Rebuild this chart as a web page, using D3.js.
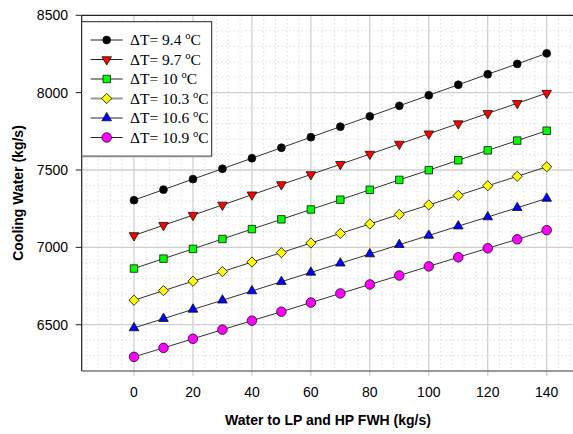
<!DOCTYPE html>
<html lang="en">
<head>
  <meta charset="UTF-8">
  <title>Cooling Water</title>
  <script src="https://d3js.org/d3.v7.min.js"></script>
  <style>
    body { margin: 0; background: #fff; }
    svg { display: block; }
  </style>
</head>
<body>
  <div id="chart"></div>
  <script>
    const xValues = [0, 10, 20, 30, 40, 50, 60, 70, 80, 90, 100, 110, 120, 130, 140];
    const xTicks = [0, 20, 40, 60, 80, 100, 120, 140];
    const yTicks = [6500, 7000, 7500, 8000, 8500];
    const seriesNames = ["9.4", "9.7", "10", "10.3", "10.6", "10.9"];
    const dt94 = [7305, 7373, 7441, 7508, 7576, 7644, 7712, 7780, 7847, 7915, 7983, 8051, 8119, 8186, 8254];
    const dt97 = [7077, 7143, 7208, 7274, 7340, 7406, 7471, 7537, 7603, 7668, 7734, 7800, 7866, 7931, 7997];
    const dt100 = [6863, 6927, 6990, 7054, 7118, 7181, 7245, 7308, 7372, 7436, 7499, 7563, 7627, 7690, 7754];
    const dt103 = [6658, 6720, 6781, 6843, 6905, 6966, 7028, 7090, 7151, 7213, 7274, 7336, 7398, 7459, 7521];
    const dt106 = [6479, 6539, 6599, 6658, 6718, 6778, 6838, 6897, 6957, 7017, 7077, 7137, 7196, 7256, 7316];
    const dt109 = [6292, 6350, 6409, 6468, 6526, 6584, 6643, 6702, 6760, 6818, 6877, 6936, 6994, 7052, 7111];
    const seriesValues = [dt94, dt97, dt100, dt103, dt106, dt109];

    const fills = ["#000000", "#ff0000", "#00ff00", "#ffff00", "#0000ff", "#ff00ff"];
    const symbols = [d3.symbolCircle, d3.symbolTriangle, d3.symbolSquare, d3.symbolSquare, d3.symbolTriangle, d3.symbolCircle];
    const sizes = [48, 40, 56, 52, 40, 72];
    const rotations = [0, 180, 0, 45, 0, 0];

    const W = 573, H = 434;
    const svg = d3.select("#chart").append("svg")
      .attr("width", W)
      .attr("height", H);

    const x = d3.scaleLinear().domain([0, 140]).range([134, 546.7]);
    const y = d3.scaleLinear().domain([6500, 8500]).range([324.7, 15.3]);
    const pLeft = 81.7, pTop = y(8500), pBottom = y(6200), pRight = W + 2;
    const xMax = x.invert(pRight);

    // minor dotted grid
    const minorX = d3.range(-16, xMax, 4).filter(v => v % 20 !== 0);
    const minorY = d3.range(6300, 8500, 100).filter(v => v % 500 !== 0);
    svg.append("g").selectAll("line").data(minorX).enter().append("line")
      .attr("x1", d => x(d)).attr("x2", d => x(d))
      .attr("y1", pTop).attr("y2", pBottom)
      .attr("stroke", "#cfcfcf").attr("stroke-dasharray", "1,3");
    svg.append("g").selectAll("line").data(minorY).enter().append("line")
      .attr("x1", pLeft).attr("x2", pRight)
      .attr("y1", d => y(d)).attr("y2", d => y(d))
      .attr("stroke", "#cfcfcf").attr("stroke-dasharray", "1,3");

    // major grid
    svg.append("g").selectAll("line").data(xTicks).enter().append("line")
      .attr("x1", d => x(d)).attr("x2", d => x(d))
      .attr("y1", pTop).attr("y2", pBottom + 5)
      .attr("stroke", "#d0d0d0").attr("stroke-width", 1.3);
    svg.append("g").selectAll("line").data(yTicks.slice(0, 4)).enter().append("line")
      .attr("x1", pLeft).attr("x2", pRight)
      .attr("y1", d => y(d)).attr("y2", d => y(d))
      .attr("stroke", "#d0d0d0").attr("stroke-width", 1.3);

    // frame
    svg.append("line").attr("x1", pLeft).attr("x2", pRight).attr("y1", pTop).attr("y2", pTop)
      .attr("stroke", "#222").attr("stroke-width", 1.2);
    svg.append("line").attr("x1", pLeft).attr("x2", pRight).attr("y1", pBottom).attr("y2", pBottom)
      .attr("stroke", "#777").attr("stroke-width", 1.5);
    svg.append("line").attr("x1", pLeft).attr("x2", pLeft).attr("y1", pTop).attr("y2", pBottom)
      .attr("stroke", "#222").attr("stroke-width", 1.2);

    // y ticks and labels
    const yAxis = svg.append("g");
    yAxis.selectAll("line").data(yTicks).enter().append("line")
      .attr("x1", pLeft - 6).attr("x2", pLeft)
      .attr("y1", d => y(d)).attr("y2", d => y(d))
      .attr("stroke", "#222");
    yAxis.selectAll("text").data(yTicks).enter().append("text")
      .attr("x", 68).attr("y", d => y(d)).attr("dy", "0.35em")
      .attr("text-anchor", "end")
      .style("font", "14px 'Liberation Sans', Arial, sans-serif")
      .attr("fill", "#000")
      .text(d => d);

    // x labels
    svg.append("g").selectAll("text").data(xTicks).enter().append("text")
      .attr("x", d => x(d)).attr("y", 396.5)
      .attr("text-anchor", "middle")
      .style("font", "14px 'Liberation Sans', Arial, sans-serif")
      .attr("fill", "#000")
      .text(d => d);

    // axis titles
    svg.append("text")
      .attr("x", 328).attr("y", 425)
      .attr("text-anchor", "middle")
      .style("font", "bold 14px 'Liberation Sans', Arial, sans-serif")
      .text("Water to LP and HP FWH (kg/s)");
    svg.append("text")
      .attr("transform", "translate(22.5,193) rotate(-90)")
      .attr("text-anchor", "middle")
      .style("font", "bold 14px 'Liberation Sans', Arial, sans-serif")
      .text("Cooling Water (kg/s)");

    // series
    const line = d3.line().x((d, i) => x(xValues[i])).y(d => y(d));
    seriesValues.forEach((vals, s) => {
      svg.append("path")
        .attr("d", line(vals))
        .attr("fill", "none")
        .attr("stroke", "#333")
        .attr("stroke-width", 1);
    });
    seriesValues.forEach((vals, s) => {
      const sym = d3.symbol().type(symbols[s]).size(sizes[s]);
      svg.append("g").selectAll("path").data(vals).enter().append("path")
        .attr("d", sym)
        .attr("transform", (d, i) => `translate(${x(xValues[i])},${y(d)}) rotate(${rotations[s]})`)
        .attr("fill", fills[s])
        .attr("stroke", "#111")
        .attr("stroke-width", 0.8);
    });

    // legend
    const lg = svg.append("g");
    lg.append("rect")
      .attr("x", pLeft).attr("y", 21.7)
      .attr("width", 130).attr("height", 134.5)
      .attr("fill", "#fff").attr("stroke", "#222").attr("stroke-width", 1);
    lg.append("line")
      .attr("x1", pLeft).attr("x2", pLeft + 130)
      .attr("y1", 156.5).attr("y2", 156.5)
      .attr("stroke", "#888").attr("stroke-width", 1.5);
    seriesNames.forEach((name, s) => {
      const ly = 40 + s * 19.5;
      lg.append("line")
        .attr("x1", 90.7).attr("x2", 122.7)
        .attr("y1", ly).attr("y2", ly)
        .attr("stroke", s === 3 ? "#999" : "#222")
        .attr("stroke-width", s === 3 ? 2 : 1);
      lg.append("path")
        .attr("d", d3.symbol().type(symbols[s]).size(sizes[s])())
        .attr("transform", `translate(106.7,${ly}) rotate(${rotations[s]})`)
        .attr("fill", fills[s])
        .attr("stroke", "#111")
        .attr("stroke-width", 0.8);
      const t = lg.append("text")
        .attr("x", 130).attr("y", ly + 5)
        .style("font", "15.5px 'Liberation Serif', 'Times New Roman', serif")
        .attr("fill", "#000");
      t.append("tspan").text("\u0394T= " + name + " ");
      t.append("tspan").attr("dy", -6).style("font-size", "10.5px").text("o");
      t.append("tspan").attr("dy", 6).text("C");
    });
  </script>
</body>
</html>
